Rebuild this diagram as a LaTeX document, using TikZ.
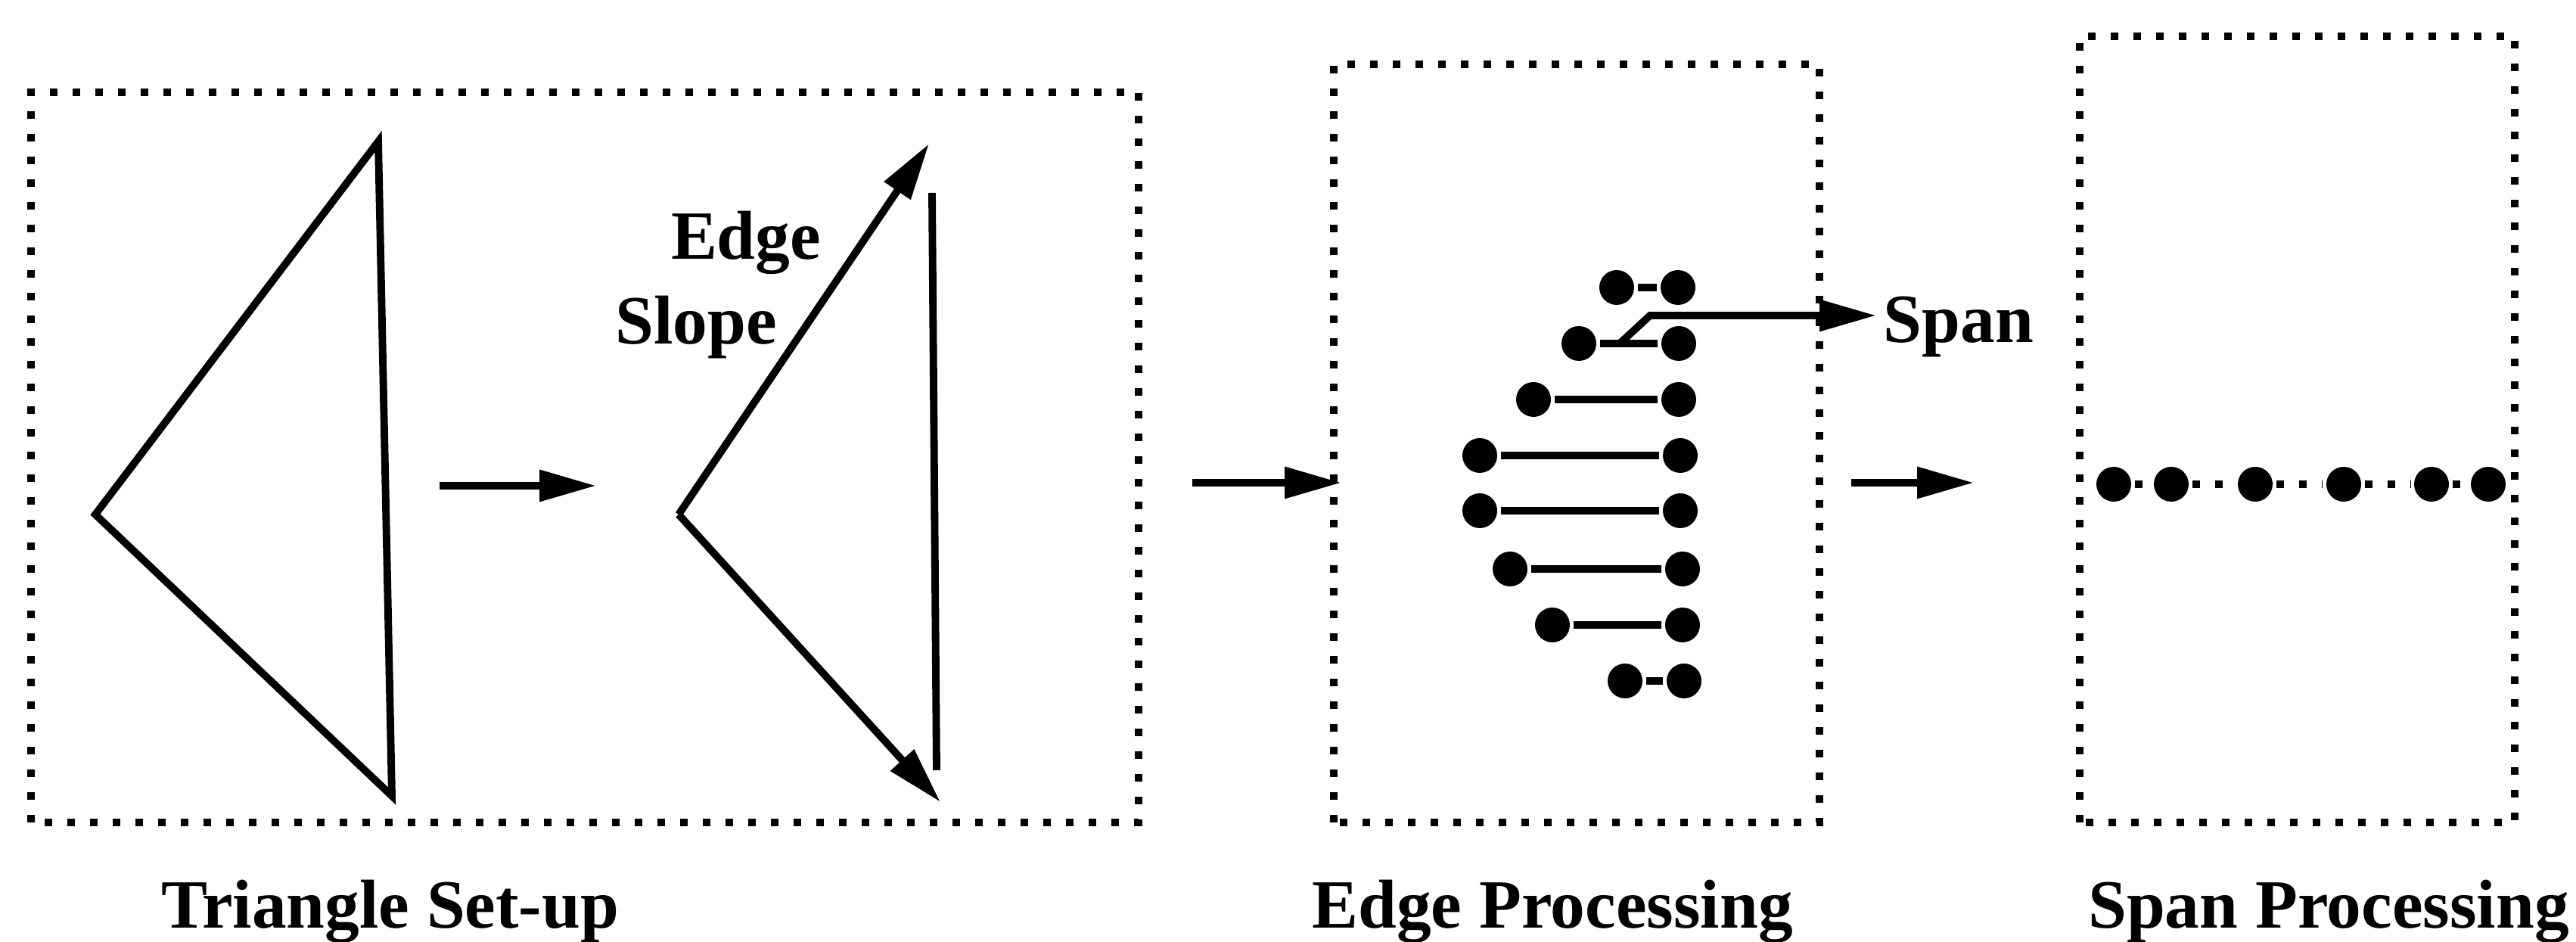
\documentclass[tikz,border=0pt]{standalone}
\usepackage{fontspec}
\setmainfont{Liberation Serif}
\usetikzlibrary{arrows.meta}

\begin{document}
\begin{tikzpicture}[
    line width=2.8pt,
    stagebox/.style={line width=0.1cm, dash pattern=on 0.1cm off 0.2cm},
    stepto/.style={-{Triangle[length=0.75cm,width=0.4cm]}},
    lbl/.style={font=\fontsize{26}{30}\selectfont\bfseries, inner sep=0pt},
    spot/.style={circle, fill, inner sep=0pt, minimum size=0.46cm}
  ]
  \useasboundingbox (0,0) rectangle (34.05,12.45);

  % Stage frames
  \draw[stagebox] (0.41,1.58) rectangle (15.05,11.23);
  \draw[stagebox] (17.63,1.58) rectangle (24.05,11.60);
  \draw[stagebox] (27.49,1.58) rectangle (33.24,11.97);

  % Triangle as given
  \coordinate (A1) at (1.26,5.65);
  \coordinate (B1) at (5.00,10.58);
  \coordinate (C1) at (5.18,1.93);
  \draw (B1) -- (A1) -- (C1) -- cycle;

  % Triangle with edge slopes
  \coordinate (A2) at (8.97,5.65);
  \coordinate (B2) at (12.28,10.55);
  \coordinate (C2) at (12.43,1.85);
  \coordinate (B2r) at (12.32,9.90);
  \coordinate (C2r) at (12.38,2.27);
  \draw[stepto] (A2) -- (B2);
  \draw[stepto] (A2) -- (C2);
  \draw (B2r) -- (C2r);
  \node[lbl, anchor=base] (edgelbl) at (9.86,9.02) {Edge};
  \node[lbl, anchor=base] (slopelbl) at (9.20,7.90) {Slope};

  % Arrows between stages
  \coordinate (g1a) at (5.81,6.03);
  \coordinate (g1b) at (7.88,6.03);
  \coordinate (g2a) at (15.76,6.07);
  \coordinate (g2b) at (17.73,6.07);
  \coordinate (g3a) at (24.47,6.07);
  \coordinate (g3b) at (26.09,6.07);
  \draw[stepto] (g1a) -- (g1b);
  \draw[stepto] (g2a) -- (g2b);
  \draw[stepto] (g3a) -- (g3b);

  % Spans
  \foreach \i/\xl/\xr/\y in {1/21.37/22.18/8.65, 2/20.87/22.19/7.91,
      3/20.27/22.19/7.17, 4/19.56/22.21/6.43, 5/19.56/22.21/5.70,
      6/19.96/22.24/4.93, 7/20.52/22.24/4.19, 8/21.48/22.26/3.45} {
    \node[spot] (l\i) at (\xl,\y) {};
    \node[spot] (r\i) at (\xr,\y) {};
    \draw (l\i) -- (r\i);
  }

  % Span pointer
  \node[lbl, anchor=base west] (spanlbl) at (24.85,7.92) {Span};
  \coordinate (kinkfoot) at (21.41,7.91);
  \coordinate (kinktop) at (21.81,8.28);
  \coordinate (spantip) at (24.80,8.28);
  \draw[stepto] (kinkfoot) -- (kinktop) -- (spantip);

  % Pixels along one span
  \foreach \x [count=\k] in {27.94,28.70,29.81,30.98,32.14,32.89}
    \node[spot] (p\k) at (\x,6.05) {};
  \foreach \a/\b in {1/2,2/3,3/4,4/5,5/6}
    \draw[stagebox] (p\a) -- (p\b);

  % Stage names
  \node[lbl, anchor=base] (setup) at (5.155,0.18) {Triangle Set-up};
  \node[lbl, anchor=base] (edgeproc) at (20.52,0.18) {Edge Processing};
  \node[lbl, anchor=base] (spanproc) at (30.78,0.18) {Span Processing};
\end{tikzpicture}
\end{document}
